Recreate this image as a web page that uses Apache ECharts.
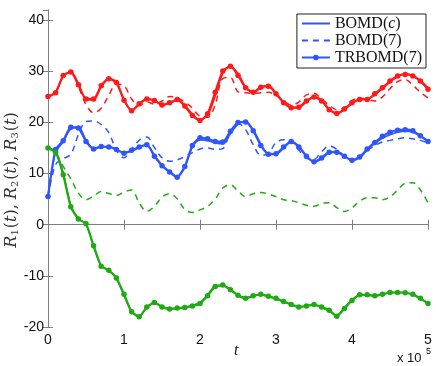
<!DOCTYPE html>
<html>
<head>
<meta charset="utf-8">
<script src="https://cdn.jsdelivr.net/npm/echarts@6/dist/echarts.min.js"></script>
<style>html,body{margin:0;padding:0;background:#fff}#c{width:436px;height:366px}</style>
</head>
<body>
<div id="c"></div>
<script>
// time axis (units of 10^5)
var T = [0,0.1,0.2,0.3,0.4,0.5,0.6,0.7,0.8,0.9,1,1.1,1.2,1.3,1.4,1.5,1.6,1.7,1.8,1.9,2,2.1,2.2,2.3,2.4,2.5,2.6,2.7,2.8,2.9,3,3.1,3.2,3.3,3.4,3.5,3.6,3.7,3.8,3.9,4,4.1,4.2,4.3,4.4,4.5,4.6,4.7,4.8,4.9,5];
var xTicks = [0,1,2,3,4,5];
var yTicks = [-20,-10,0,10,20,30,40];

// R1 (red)
var R1_c  = [25.0,25.9,29.0,29.9,27.6,24.5,24.4,27.0,28.6,27.9,24.5,22.4,23.5,24.5,24.4,23.5,23.7,24.4,23.4,21.6,20.5,21.4,25.2,29.6,31.0,29.6,27.0,25.8,26.8,27.2,25.8,24.0,22.9,22.9,24.0,25.0,24.4,22.6,21.7,22.5,23.7,24.5,24.6,25.4,26.6,27.9,29.0,29.5,29.2,28.2,26.8];
var R1_7  = [25.0,26.0,29.0,30.0,27.0,23.5,21.9,22.8,25.3,27.5,27.2,24.6,23.3,24.0,23.6,24.2,25.1,24.8,24.0,22.8,21.2,21.0,23.5,28.6,28.8,26.0,25.8,25.7,25.8,25.9,25.3,24.2,23.4,24.0,25.4,25.7,24.6,23.4,22.5,22.9,24.3,24.8,24.5,24.2,25.0,26.6,28.0,28.4,27.3,25.9,24.8];
var R1_tr = [25.1,25.8,29.2,29.85,27.4,24.6,24.6,27.2,28.55,27.8,24.35,22.3,23.65,24.6,24.3,23.4,23.85,24.5,23.2,21.35,20.4,21.7,25.9,30.05,31.0,29.2,26.8,25.9,26.9,27.1,25.6,23.85,22.9,23.0,24.2,25.0,24.2,22.5,21.75,22.65,23.85,24.5,24.5,25.6,26.8,28.1,29.1,29.4,29.1,28.1,26.5];

// R2 (blue)
var R2_c  = [5.5,14.2,16.2,18.8,19.1,16.6,14.9,15.2,15.3,14.8,14.1,14.4,15.1,15.7,13.6,11.7,10.4,9.4,11.2,15.2,16.6,16.5,16.0,15.8,17.8,19.7,20.2,18.6,15.8,13.9,13.8,15.0,16.2,15.4,13.5,12.3,12.9,14.1,14.3,13.5,12.6,13.1,14.6,15.9,16.9,17.6,18.1,18.3,18.1,17.3,16.4];
var R2_7  = [5.5,11.8,12.9,13.8,17.6,20.2,20.3,19.6,18.0,14.6,13.1,14.8,16.5,17.15,15.1,13.1,12.4,12.7,13.3,14.1,14.8,15.0,14.75,14.9,18.2,19.8,18.6,15.65,13.6,13.9,16.1,16.6,16.4,14.6,13.0,12.8,14.3,15.4,14.8,13.4,12.8,13.1,14.5,15.5,16.2,16.5,16.8,17.0,16.8,16.5,16.0];
var R2_tr = [5.5,14.7,16.45,19.05,18.9,16.3,14.8,15.3,15.2,14.7,14.0,14.55,15.2,15.65,13.4,11.55,10.3,9.3,11.4,15.5,17.0,16.8,16.3,16.2,18.3,20.0,20.1,18.4,15.5,13.8,13.9,15.2,16.3,15.2,13.4,12.3,13.05,14.2,14.2,13.4,12.6,13.25,14.8,16.1,17.3,18.1,18.5,18.6,18.4,17.4,16.3];

// R3 (green)
var R3_c  = [15.0,14.4,10.2,3.8,1.2,0.1,-4.3,-8.0,-9.0,-10.6,-13.8,-17.0,-17.8,-16.2,-15.3,-16.0,-16.4,-16.4,-16.1,-15.8,-15.2,-13.7,-12.0,-11.9,-12.8,-13.8,-14.3,-13.9,-13.7,-14.1,-14.5,-15.1,-15.6,-16.0,-15.9,-15.7,-16.2,-16.9,-17.7,-16.2,-14.7,-13.8,-13.8,-13.9,-13.6,-13.3,-13.2,-13.3,-13.7,-14.5,-15.3];
var R3_7  = [15.0,14.0,11.4,9.0,6.2,4.9,5.6,6.5,6.1,5.7,6.4,6.8,4.3,2.6,3.6,5.4,6.05,5.1,3.0,2.4,2.9,3.6,5.0,7.2,7.8,6.6,5.5,6.05,6.3,6.0,5.5,4.9,4.7,4.3,3.8,3.6,4.2,4.3,3.35,2.6,3.3,4.6,5.3,5.3,4.9,5.4,6.8,8.1,8.2,6.8,4.3];
var R3_tr = [15.0,14.2,9.8,3.5,1.1,0.2,-4.1,-8.1,-8.9,-10.4,-13.6,-17.0,-18.0,-16.1,-15.2,-16.1,-16.5,-16.3,-16.2,-15.9,-15.4,-13.9,-12.1,-11.8,-12.7,-13.8,-14.4,-13.9,-13.6,-14.0,-14.4,-15.0,-15.6,-16.1,-15.9,-15.6,-16.1,-16.7,-17.9,-16.4,-14.8,-13.7,-13.7,-13.9,-13.6,-13.25,-13.25,-13.3,-13.6,-14.4,-15.4];

var RED = '#ff1a1a', BLUE = '#2f55ff', GREEN = '#1faa14';

function pairs(v){ return T.map(function(t,i){ return [t, v[i]]; }); }
function dashed(name, color, v){
  return {name:name, type:'line', data:pairs(v), smooth:0.35, symbol:'none', z:2,
    lineStyle:{color:color, width:1.5, type:[6,5]}, itemStyle:{color:color}};
}
function solid(name, color, v){
  return {name:name, type:'line', data:pairs(v), smooth:0.3, symbol:'none', z:3,
    lineStyle:{color:color, width:1.6}, itemStyle:{color:color}};
}
function tr(name, color, v){
  return {name:name, type:'line', data:pairs(v), smooth:0.2, symbol:'circle', symbolSize:5.5, z:4,
    lineStyle:{color:color, width:2.2}, itemStyle:{color:color}};
}

var axisGray = '#7f7f7f';
var labelFont = {fontFamily:'Liberation Sans', fontSize:14, color:'#111'};
var hiddenSymbol = {color:'rgba(0,0,0,0)', borderWidth:0, opacity:0};

var chart = echarts.init(document.getElementById('c'), null, {renderer:'canvas'});
chart.setOption({
  animation:false,
  backgroundColor:'#fff',
  grid:{left:48, right:8, top:10, bottom:39},
  xAxis:[
    {type:'value', min:0, max:5, interval:1, position:'bottom',
     axisLine:{show:true, lineStyle:{color:axisGray, width:1}},
     axisTick:{show:true, inside:true, length:5, lineStyle:{color:axisGray}},
     axisLabel:Object.assign({margin:6}, labelFont),
     splitLine:{show:false}},
    {type:'value', min:0, max:5, interval:1, position:'top',
     axisLine:{show:true, lineStyle:{color:axisGray, width:1}},
     axisTick:{show:true, inside:true, length:5, lineStyle:{color:axisGray}},
     axisLabel:{show:false}, splitLine:{show:false}}
  ],
  yAxis:[
    {type:'value', min:-20, max:42, interval:10, position:'left',
     axisLine:{show:true, lineStyle:{color:axisGray, width:1}},
     axisTick:{show:true, inside:true, length:5, lineStyle:{color:axisGray}},
     axisLabel:Object.assign({margin:4, showMaxLabel:false,
        formatter:function(v){ return yTicks.indexOf(v) >= 0 ? String(v) : ''; }}, labelFont),
     splitLine:{show:false}},
    {type:'value', min:-20, max:42, interval:10, position:'right',
     axisLine:{show:true, lineStyle:{color:axisGray, width:1}},
     axisTick:{show:true, inside:true, length:5, lineStyle:{color:axisGray}},
     axisLabel:{show:false}, splitLine:{show:false}}
  ],
  legend:{
    show:true, orient:'vertical', right:10, top:14,
    data:[
      {name:'BOMD(c)', itemStyle:hiddenSymbol},
      {name:'BOMD(7)', itemStyle:hiddenSymbol},
      {name:'TRBOMD(7)'}
    ],
    backgroundColor:'#fff', borderColor:'#222', borderWidth:1,
    padding:[1,4,2,4], itemGap:0, itemWidth:28, itemHeight:7,
    selectedMode:false,
    textStyle:{fontFamily:'Liberation Serif', fontSize:16, color:'#111', lineHeight:17,
      rich:{i:{fontFamily:'Liberation Serif', fontStyle:'italic', fontSize:16, lineHeight:17, color:'#111'}}},
    formatter:function(n){ return n === 'BOMD(c)' ? 'BOMD({i|c})' : n; }
  },
  graphic:[
    {type:'text', left:234, top:343, style:{text:'t', fontFamily:'Liberation Serif', fontStyle:'italic', fontSize:16, fill:'#111'}},
    {type:'text', left:397, top:352, style:{text:'x 10', fontFamily:'Liberation Sans', fontSize:13, fill:'#111'}},
    {type:'text', left:426, top:347, style:{text:'5', fontFamily:'Liberation Sans', fontSize:9, fill:'#111'}},
    {type:'text', x:2, y:180, rotation:Math.PI/2,
     style:{text:'{r|R}{s|1}{p|(}{r|t}{p|), }{r|R}{s|2}{p|(}{r|t}{p|), }{r|R}{s|3}{p|(}{r|t}{p|)}',
       align:'center', verticalAlign:'top',
       rich:{
         r:{fontFamily:'DejaVu Serif', fontStyle:'italic', fontSize:16, fill:'#333', lineHeight:19},
         p:{fontFamily:'DejaVu Serif', fontSize:16, fill:'#333', lineHeight:19},
         s:{fontFamily:'DejaVu Serif', fontSize:10, fill:'#333', lineHeight:19, padding:[8,1,0,0]}
       }}}
  ],
  series:[
    solid('BOMD(c)', BLUE, R2_c),
    dashed('BOMD(7)', BLUE, R2_7),
    tr('TRBOMD(7)', BLUE, R2_tr),
    solid('BOMD(c)', RED, R1_c),
    dashed('BOMD(7)', RED, R1_7),
    tr('TRBOMD(7)', RED, R1_tr),
    solid('BOMD(c)', GREEN, R3_c),
    dashed('BOMD(7)', GREEN, R3_7),
    tr('TRBOMD(7)', GREEN, R3_tr)
  ]
});
</script>
</body>
</html>
